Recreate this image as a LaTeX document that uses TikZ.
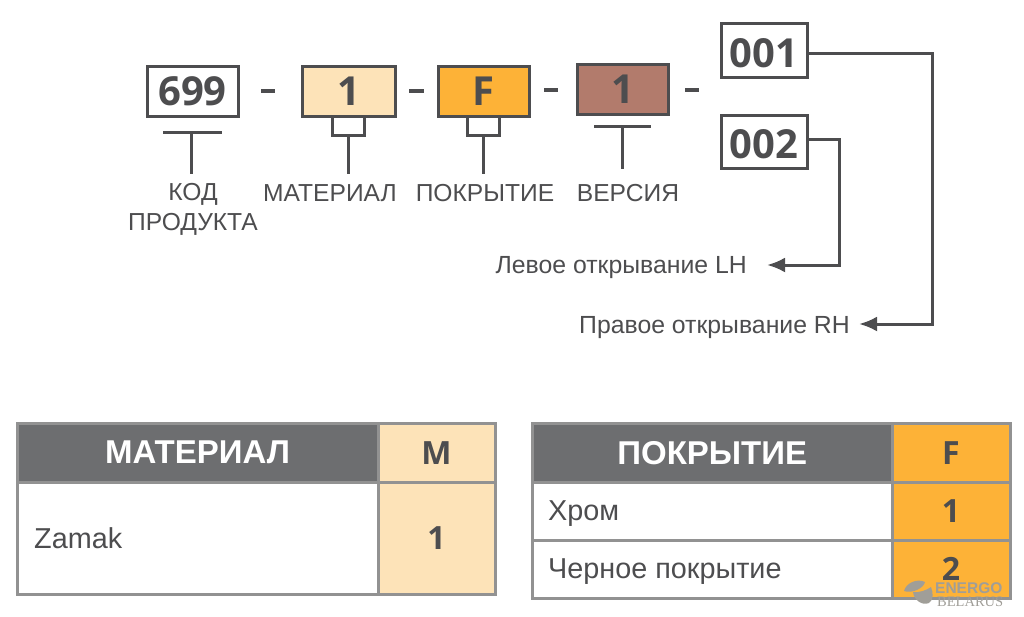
\documentclass[tikz,border=0pt]{standalone}
\usepackage{fontspec}
\setmainfont{Liberation Sans}
\newfontfamily\numfont{Open Sans}
\newfontfamily\markfont{Liberation Serif}
\usetikzlibrary{arrows.meta}
\definecolor{ink}{HTML}{4D4D4F}
\definecolor{sand}{HTML}{FDE3B8}
\definecolor{amber}{HTML}{FDB237}
\definecolor{clay}{HTML}{B27B6C}
\definecolor{hdr}{HTML}{6D6E70}
\definecolor{rule}{HTML}{929292}
\definecolor{wmgrey}{HTML}{A09E98}
\tikzset{
 x=1pt,y=-1pt,
 codebox/.style={draw=ink,line width=3pt,inner sep=0pt,text=ink,font=\numfont\bfseries\fontsize{40}{40}\selectfont},
 dashmark/.style={fill=ink,inner sep=0pt,minimum width=14.5pt,minimum height=4.2pt},
 lbl/.style={text=ink,inner sep=0pt,font=\fontsize{24.6}{26}\selectfont},
 note/.style={text=ink,inner sep=0pt,font=\fontsize{24.8}{26}\selectfont},
 wire/.style={draw=ink,line width=3pt},
 arrowed/.style={wire,-{Latex[length=18pt,width=15pt]}},
 cell/.style={draw=rule,line width=3pt,inner sep=0pt,text=ink},
 head/.style={cell,fill=hdr,text=white,font=\bfseries\fontsize{33}{33}\selectfont},
 codecell/.style={cell,font=\numfont\bfseries\fontsize{32}{32}\selectfont},
 rowtext/.style={text=ink,inner sep=0pt,font=\fontsize{28.8}{30}\selectfont},
 wmEn/.style={text=wmgrey,inner sep=0pt,font=\bfseries\fontsize{15.5}{17}\selectfont},
 wmBe/.style={text=wmgrey,inner sep=0pt,font=\markfont\fontsize{14.5}{15}\selectfont},
}
\begin{document}
\begin{tikzpicture}
\useasboundingbox (0,0) rectangle (1024,616);
% code boxes
\node[codebox,minimum width=91pt,minimum height=50pt] (c699) at (192.5,91) {699};
\node[codebox,fill=sand,minimum width=93pt,minimum height=50pt] (cmat) at (348.5,91) {1};
\node[codebox,fill=amber,minimum width=91pt,minimum height=50pt] (cfin) at (483.5,91) {F};
\node[codebox,fill=clay,minimum width=91pt,minimum height=50pt] (cver) at (622.5,89) {1};
\node[codebox,minimum width=86pt,minimum height=54pt] (c001) at (764,50) {\rule{0pt}{35pt}001};
\node[codebox,minimum width=86pt,minimum height=53pt] (c002) at (764,141.5) {\rule{0pt}{34pt}002};
% dashes
\node[dashmark] (d1) at (268,91) {};
\node[dashmark] (d2) at (416.5,91) {};
\node[dashmark] (d3) at (551,90) {};
\node[dashmark] (d4) at (692,90) {};
% labels
\node[lbl] (l699a) at (193,194) {КОД};
\node[lbl] (l699b) at (193,224) {ПРОДУКТА};
\node[lbl] (lmat) at (330,193.5) {МАТЕРИАЛ};
\node[lbl] (lfin) at (485,193.5) {ПОКРЫТИЕ};
\node[lbl] (lver) at (628,193.5) {ВЕРСИЯ};
\node[note,anchor=east] (lh) at (747,268) {Левое открывание LH};
\node[note,anchor=east] (rh) at (850,328) {Правое открывание RH};
% stems
\draw[wire] (163,132) -- (222,132);
\draw[wire] (191,132) -- (191,174);
\draw[wire] (594,126) -- (651,126);
\draw[wire] (622,126) -- (622,169);
\draw[wire] (332,116) -- (332,135) -- (364,135) -- (364,116);
\draw[wire] (348,135) -- (348,174);
\draw[wire] (467,116) -- (467,135) -- (499,135) -- (499,116);
\draw[wire] (483,135) -- (483,174);
% connectors
\coordinate (tipL) at (767,265);
\coordinate (tipR) at (859,324);
\draw[arrowed] (c002.east |- 0,139) -| (839,265) -- (tipL);
\draw[arrowed] (c001.east |- 0,53) -| (932,324) -- (tipR);
% table 1
\node[head,minimum width=361pt,minimum height=58.5pt] (m1) at (197.5,452.75) {МАТЕРИАЛ};
\node[codecell,fill=sand,minimum width=117pt,minimum height=58.5pt] (m2) at (436.5,452.75) {M};
\node[cell,minimum width=361pt,minimum height=112.5pt] (m3) at (197.5,538.25) {};
\node[codecell,fill=sand,minimum width=117pt,minimum height=112.5pt] (m4) at (436.5,538.25) {1};
\node[rowtext,anchor=west] (m5) at (34,538.5) {Zamak};
% table 2
\node[head,minimum width=359.5pt,minimum height=58.5pt] (f1) at (712.25,452.75) {ПОКРЫТИЕ};
\node[codecell,fill=amber,minimum width=118pt,minimum height=58.5pt] (f2) at (951,452.75) {F};
\node[cell,minimum width=359.5pt,minimum height=58pt] (f3) at (712.25,511) {};
\node[codecell,fill=amber,minimum width=118pt,minimum height=58pt] (f4) at (951,511) {1};
\node[cell,minimum width=359.5pt,minimum height=58pt] (f5) at (712.25,569) {};
\node[codecell,fill=amber,minimum width=118pt,minimum height=58pt] (f6) at (951,569) {2};
\node[rowtext,anchor=west] (f7) at (548,514) {Хром};
\node[rowtext,anchor=west] (f8) at (548,572) {Черное покрытие};
% watermark
\fill[wmgrey] (904,591) .. controls (906,583) and (917,578) .. (925,582) .. controls (924,588) and (912,594) .. (904,591) -- cycle;
\fill[wmgrey] (913,592) .. controls (919,593) and (927,590) .. (931,587) .. controls (933,592) and (934,600) .. (929,603) .. controls (922,606) and (914,600) .. (913,592) -- cycle;
\node[wmEn,anchor=west] (wm1) at (935,588) {ENERGO};
\node[wmBe,anchor=west] (wm2) at (937,602) {BELARUS};
\end{tikzpicture}
\end{document}
